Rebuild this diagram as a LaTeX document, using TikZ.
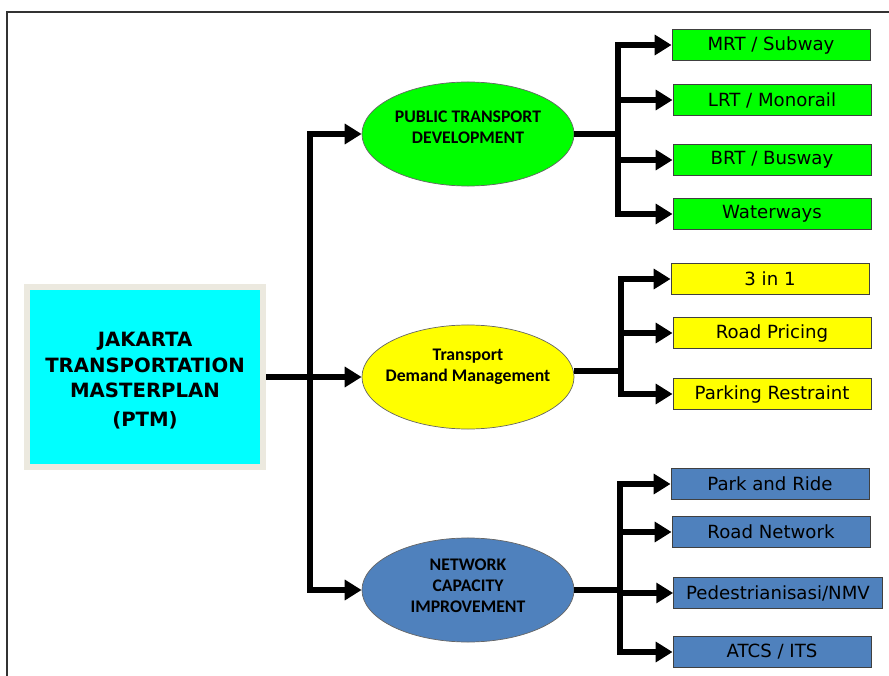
\documentclass[tikz,border=0pt]{standalone}
\usepackage{fontspec}
\setmainfont{DejaVu Sans}
\newfontfamily\calib{Carlito}
\usepackage{tikz}
\usetikzlibrary{shapes}
\usetikzlibrary{arrows.meta}

\definecolor{ptgreen}{HTML}{00FF00}
\definecolor{tdmyellow}{HTML}{FFFF00}
\definecolor{ncblue}{HTML}{4F81BD}
\definecolor{ptmcyan}{HTML}{00FFFF}
\definecolor{ptmrim}{HTML}{ECE9DF}

\tikzset{
  leaf/.style={draw=black!75, line width=0.6pt, minimum width=4.95cm, minimum height=0.78cm,
    inner sep=0pt, font=\fontsize{12.9}{15}\selectfont},
  hub/.style={ellipse, draw=black!60, line width=0.5pt, minimum width=5.3cm, minimum height=2.6cm,
    inner sep=0pt},
  hubtext/.style={align=center, inner sep=0pt, font=\calib\bfseries\fontsize{12.6}{15}\selectfont},
  link/.style={line width=3.8pt, -{Triangle[length=12pt,width=14pt]}},
  stem/.style={line width=3.8pt}
}

\begin{document}
\begin{tikzpicture}[x=0.025cm,y=-0.025cm]
\useasboundingbox (0,0) rectangle (889,676);
\draw [black!80, line width=0.8pt] (7,676) -- (7,12) -- (889,12);

% main box
\node [fill=ptmcyan, draw=ptmrim, line width=4.3pt, minimum width=5.9cm, minimum height=4.5cm] (ptm) at (145,377) {};
\node [align=center, font=\bfseries\fontsize{14}{18}\selectfont] (ptmtext) at (145,381)
  {JAKARTA\\TRANSPORTATION\\MASTERPLAN\\[3pt](PTM)};

% ellipses
\node [hub, fill=ptgreen, label={[hubtext, yshift=4.5pt]center:{PUBLIC TRANSPORT\\DEVELOPMENT}}] (ptd) at (468,134) {};
\node [hub, fill=tdmyellow, label={[hubtext, yshift=7.5pt]center:{Transport\\Demand Management}}] (tdm) at (468,377) {};
\node [hub, fill=ncblue, label={[hubtext, yshift=3pt]center:{NETWORK\\CAPACITY\\IMPROVEMENT}}] (nci) at (468,590) {};

% green boxes
\node [leaf, fill=ptgreen] (mrt) at (771,45) {MRT / Subway};
\node [leaf, fill=ptgreen] (lrt) at (772,100) {LRT / Monorail};
\node [leaf, fill=ptgreen] (brt) at (772,160) {BRT / Busway};
\node [leaf, fill=ptgreen] (wat) at (772,214) {Waterways};

% yellow boxes
\node [leaf, fill=tdmyellow] (tin) at (770,279) {3 in 1};
\node [leaf, fill=tdmyellow] (rpr) at (772,333) {Road Pricing};
\node [leaf, fill=tdmyellow] (prk) at (772,394) {Parking Restraint};

% blue boxes
\node [leaf, fill=ncblue] (pnr) at (770,484) {Park and Ride};
\node [leaf, fill=ncblue] (rnw) at (771,532) {Road Network};
\node [leaf, fill=ncblue, minimum width=5.22cm] (ped) at (778,593) {Pedestrianisasi/NMV};
\node [leaf, fill=ncblue] (its) at (772,652) {ATCS / ITS};

% left branches
\coordinate (j0) at (310,377);
\draw [link] (ptm.east) -- (tdm.west);
\draw [link] (j0) |- (ptd.west);
\draw [link] (j0) |- (nci.west);

% right branches
\coordinate (j1) at (618,134);
\coordinate (j2) at (621,371);
\coordinate (j3) at (620,590);
\draw [stem] (ptd.east) -- (j1);
\draw [stem] (tdm.east |- j2) -- (j2);
\draw [stem] (nci.east) -- (j3);
\foreach \n in {mrt,lrt,brt,wat}
  \draw [link] (j1) |- (\n.west);
\foreach \n in {tin,rpr,prk}
  \draw [link] (j2) |- (\n.west);
\foreach \n in {pnr,rnw,ped,its}
  \draw [link] (j3) |- (\n.west);
\end{tikzpicture}
\end{document}
